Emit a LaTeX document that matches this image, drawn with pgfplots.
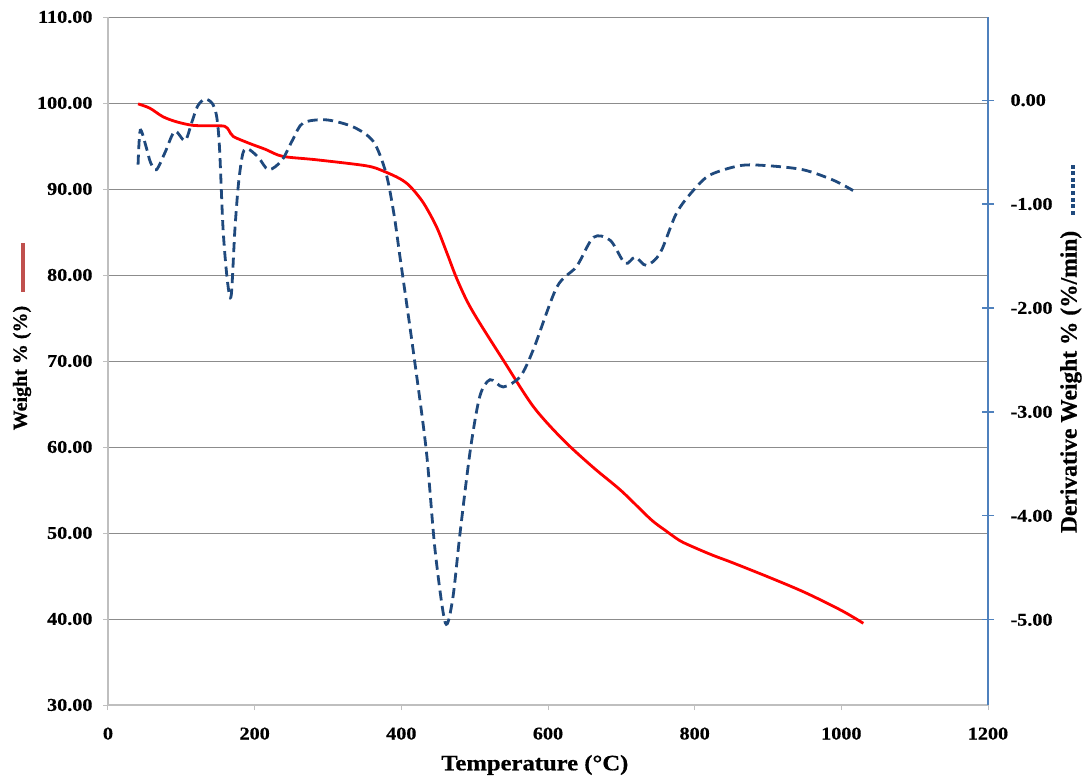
\documentclass[border=0pt]{standalone}
\usepackage{fontspec}
\setmainfont{Liberation Serif}[BoldFeatures={FakeBold=0.6}]
\newfontfamily\stfont{Liberation Serif}[FakeStretch=1.12, BoldFeatures={FakeBold=0.6}]
\usepackage{pgfplots}
\pgfplotsset{compat=1.18}
\definecolor{dblue}{HTML}{1F497D}
\definecolor{axblue}{HTML}{4F81BD}
\definecolor{lred}{HTML}{C0504D}
\definecolor{gridg}{HTML}{8C8C8C}
\definecolor{axg}{HTML}{BFBFBF}
\newcommand\dotbox{\rule[2pt]{4pt}{4pt}\hspace{2.6pt}}
\begin{document}
\begin{tikzpicture}
\begin{axis}[name=ax,
  scale only axis, width=880pt, height=688pt,
  xmin=0, xmax=1200, ymin=30, ymax=110,
  xtick={0,200,...,1200}, ytick={30,40,...,110},
  axis y line*=left, axis x line*=bottom,
  axis line style={draw=axg, line width=1.5pt},
  ymajorgrids, grid style={draw=gridg, line width=1pt},
  tick align=outside, major tick length=5pt,
  tick style={draw=axg, line width=1pt},
  /pgf/number format/assume math mode=true,
  yticklabel style={/pgf/number format/.cd, fixed, fixed zerofill, precision=2, /tikz/.cd, xshift=-7pt, font=\stfont\bfseries\fontsize{18}{21}\selectfont},
  xticklabel style={/pgf/number format/.cd, fixed, 1000 sep={}, /tikz/.cd, yshift=-14pt, font=\stfont\bfseries\fontsize{18}{21}\selectfont},
  xlabel={Temperature (°C)},
  xlabel style={at={(axis description cs:0.485,-0.0872)}, anchor=center, font=\stfont\bfseries\fontsize{22}{26}\selectfont},
  ylabel={Weight \% (\%)\hspace{14pt}\textcolor{lred}{\rule[2pt]{49pt}{4pt}}},
  ylabel style={at={(axis description cs:-0.0977,0.5356)}, anchor=center, font=\bfseries\fontsize{20}{24}\selectfont},
]
\addplot[red, line width=2.8pt, smooth, tension=0.5] coordinates {
(41,99.9) (57,99.4) (75,98.4) (94,97.8) (116,97.4) (140,97.35) (159,97.3) (165,96.8) (171,96.1) (193,95.3) (215,94.6) (238,93.8) (284,93.4) (352,92.7) (375,92.1) (398,91.2) (412,90.3) (430,88.4) (448,85.6) (462,82.6) (475,79.7) (490,76.9) (507,74.4) (539,70.1) (580,64.7) (621,60.8) (662,57.6) (700,54.9) (740,51.6) (760,50.3) (780,49.1) (800,48.3) (825,47.4) (850,46.6) (900,44.9) (950,43.1) (1000,41.0) (1030,39.5)
};
\end{axis}
\begin{axis}[
  scale only axis, width=880pt, height=688pt,
  xmin=0, xmax=1200, ymin=-5.82, ymax=0.80,
  ytick={-5,-4,...,0},
  axis y line*=right, axis x line=none,
  axis line style={draw=axblue, line width=1.5pt},
  tick align=center, major tick length=12pt,
  tick style={draw=axblue, line width=1.2pt},
  /pgf/number format/assume math mode=true,
  yticklabel style={/pgf/number format/.cd, fixed, fixed zerofill, precision=2, /tikz/.cd, xshift=13pt, font=\stfont\bfseries\fontsize{18}{21}\selectfont},
  ylabel={Derivative Weight \% (\%/min)\hspace{16pt}\textcolor{dblue}{\dotbox\dotbox\dotbox\dotbox\dotbox\dotbox\dotbox\dotbox}},
  ylabel style={at={(axis description cs:1.0943,0.5196)}, anchor=center, rotate=0, font=\bfseries\fontsize{23.5}{27}\selectfont},
]
\addplot[dblue, line width=2.8pt, dash pattern=on 10pt off 5.5pt, smooth, tension=0.5] coordinates {
(41,-0.62) (44,-0.29) (52,-0.45) (58,-0.6) (66,-0.67) (78,-0.5) (91,-0.30) (105,-0.39) (114,-0.22) (122,-0.06) (132,0.01) (142,-0.03) (148,-0.15) (152,-0.45) (157,-1.25) (163,-1.75) (168,-1.88) (173,-1.25) (178,-0.8) (184,-0.51) (191,-0.47) (205,-0.55) (219,-0.67) (237,-0.58) (252,-0.38) (266,-0.22) (298,-0.19) (335,-0.26) (362,-0.40) (379,-0.70) (390,-1.1) (398,-1.5) (416,-2.40) (434,-3.37) (446,-4.33) (460,-5.03) (470,-4.8) (480,-4.17) (494,-3.37) (507,-2.85) (521,-2.69) (539,-2.76) (562,-2.66) (580,-2.40) (612,-1.80) (639,-1.60) (662,-1.32) (685,-1.35) (705,-1.57) (719,-1.51) (734,-1.59) (753,-1.47) (775,-1.09) (798,-0.87) (821,-0.72) (862,-0.63) (898,-0.63) (948,-0.67) (989,-0.77) (1016,-0.87)
};
\end{axis}
\pgfresetboundingbox
\path (ax.south west) ++(-108pt,-76pt) rectangle ++(1086pt,781pt);
\end{tikzpicture}
\end{document}
